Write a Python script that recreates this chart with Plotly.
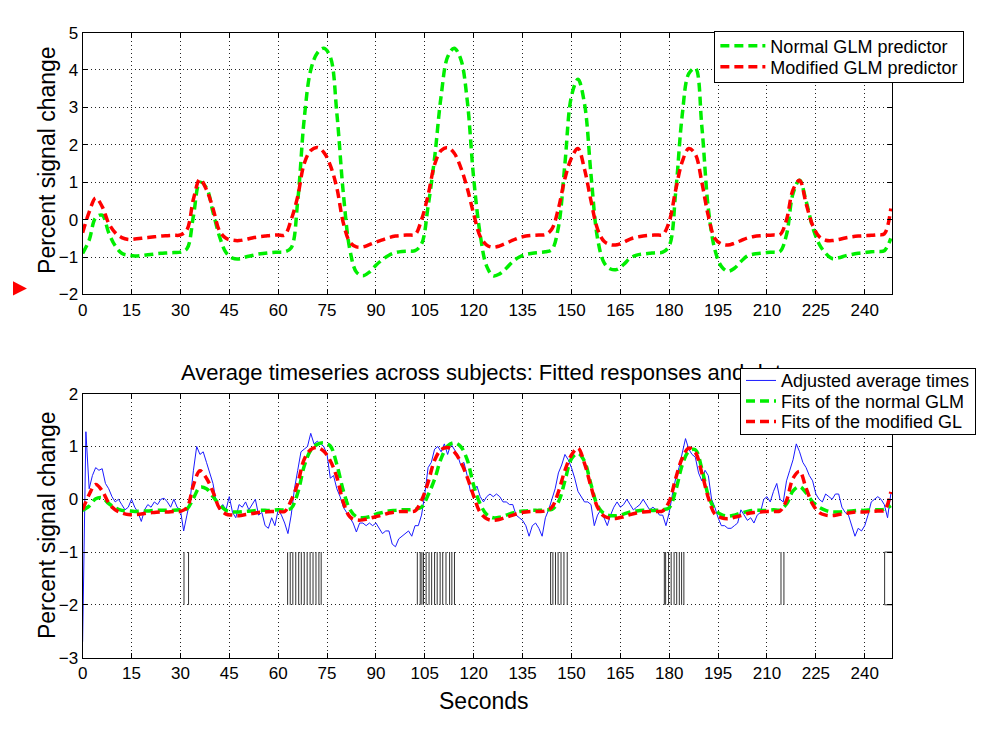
import plotly.graph_objects as go

# ---------------- data ----------------
t_fit = list(range(0, 249, 2))   # seconds (2 s grid for the smooth predictors/fits)

top_normal = [
    -0.9, -0.55, 0.05, 0.12, -0.35, -0.7, -0.9, -0.95, -0.97, -0.96,
    -0.94, -0.92, -0.9, -0.89, -0.88, -0.87, -0.78, 0.1, 1.0, 0.85,
    0.2, -0.45, -0.88, -1.03, -1.05, -1.0, -0.96, -0.92, -0.9, -0.88,
    -0.87, -0.86, -0.75, 0.5, 2.7, 4.0, 4.45, 4.58, 4.35, 2.85,
    0.7, -0.8, -1.4, -1.5, -1.4, -1.22, -1.07, -0.95, -0.88, -0.85,
    -0.84, -0.83, -0.65, 0.35, 1.65, 3.3, 4.35, 4.58, 4.3, 3.2,
    1.1, -0.4, -1.25, -1.5, -1.45, -1.3, -1.12, -1.0, -0.93, -0.9,
    -0.88, -0.86, -0.8, -0.2, 1.5, 3.3, 3.75, 3.1, 1.2, -0.5,
    -1.15, -1.32, -1.33, -1.2, -1.03, -0.95, -0.92, -0.9, -0.88, -0.87,
    -0.7, 0.75, 2.8, 3.9, 4.05, 2.5, 0.3, -0.8, -1.25, -1.38,
    -1.3, -1.12, -0.97, -0.92, -0.9, -0.88, -0.87, -0.85, -0.4, 0.7,
    1.05, 0.5, -0.2, -0.65, -0.9, -1.04, -1.02, -0.97, -0.93, -0.9,
    -0.88, -0.86, -0.85, -0.83, -0.5,
]

top_modified = [
    -0.35, 0.2, 0.58, 0.35, -0.1, -0.35, -0.48, -0.53, -0.52, -0.5,
    -0.48, -0.46, -0.44, -0.43, -0.42, -0.41, -0.27, 0.55, 1.08, 0.8,
    0.3, -0.3, -0.5, -0.55, -0.56, -0.53, -0.49, -0.46, -0.44, -0.42,
    -0.41, -0.41, 0.0, 0.62, 1.5, 1.85, 1.93, 1.8, 1.45, 0.85,
    -0.09, -0.6, -0.73, -0.73, -0.67, -0.6, -0.54, -0.48, -0.44, -0.42,
    -0.41, -0.4, 0.0, 0.65, 1.47, 1.85, 1.93, 1.78, 1.4, 0.85,
    0.15, -0.45, -0.68, -0.74, -0.7, -0.63, -0.55, -0.48, -0.44, -0.42,
    -0.41, -0.4, -0.25, 0.3, 1.1, 1.65, 1.9, 1.35, 0.5, -0.25,
    -0.58, -0.67, -0.67, -0.6, -0.52, -0.47, -0.44, -0.42, -0.41, -0.4,
    -0.05, 0.8, 1.55, 1.9, 1.75, 1.0, 0.1, -0.5, -0.65, -0.68,
    -0.63, -0.56, -0.49, -0.45, -0.43, -0.42, -0.41, -0.4, 0.0, 0.8,
    1.05, 0.43, -0.15, -0.45, -0.55, -0.56, -0.53, -0.49, -0.46, -0.44,
    -0.43, -0.42, -0.4, -0.38, 0.3,
]

fit_normal = [
    -0.21, -0.13, 0.01, 0.03, -0.08, -0.16, -0.21, -0.22, -0.23, -0.22,
    -0.22, -0.21, -0.21, -0.21, -0.21, -0.2, -0.18, 0.02, 0.23, 0.2,
    0.05, -0.1, -0.21, -0.24, -0.24, -0.23, -0.22, -0.21, -0.21, -0.21,
    -0.2, -0.2, -0.17, 0.12, 0.63, 0.93, 1.04, 1.07, 1.01, 0.66,
    0.16, -0.19, -0.33, -0.35, -0.33, -0.28, -0.25, -0.22, -0.21, -0.2,
    -0.2, -0.19, -0.15, 0.08, 0.38, 0.77, 1.01, 1.07, 1.0, 0.75,
    0.26, -0.09, -0.29, -0.35, -0.34, -0.3, -0.26, -0.23, -0.22, -0.21,
    -0.21, -0.2, -0.19, -0.05, 0.35, 0.77, 0.87, 0.72, 0.28, -0.12,
    -0.27, -0.31, -0.31, -0.28, -0.24, -0.22, -0.21, -0.21, -0.21, -0.2,
    -0.16, 0.17, 0.65, 0.91, 0.94, 0.58, 0.07, -0.19, -0.29, -0.32,
    -0.3, -0.26, -0.23, -0.21, -0.21, -0.21, -0.2, -0.2, -0.09, 0.16,
    0.24, 0.12, -0.05, -0.15, -0.21, -0.24, -0.24, -0.23, -0.22, -0.21,
    -0.21, -0.2, -0.2, -0.19, -0.12,
]

fit_modified = [
    -0.2, 0.09, 0.28, 0.16, -0.07, -0.2, -0.26, -0.29, -0.29, -0.28,
    -0.26, -0.25, -0.24, -0.24, -0.23, -0.23, -0.16, 0.27, 0.54, 0.4,
    0.14, -0.17, -0.28, -0.3, -0.31, -0.29, -0.27, -0.25, -0.24, -0.23,
    -0.23, -0.23, -0.02, 0.3, 0.76, 0.94, 0.98, 0.91, 0.73, 0.42,
    -0.06, -0.33, -0.39, -0.39, -0.36, -0.33, -0.3, -0.26, -0.24, -0.23,
    -0.23, -0.22, -0.02, 0.32, 0.74, 0.94, 0.98, 0.9, 0.71, 0.42,
    0.06, -0.25, -0.37, -0.4, -0.38, -0.34, -0.3, -0.26, -0.24, -0.23,
    -0.23, -0.22, -0.15, 0.14, 0.55, 0.84, 0.97, 0.68, 0.24, -0.15,
    -0.32, -0.36, -0.36, -0.33, -0.29, -0.26, -0.24, -0.23, -0.23, -0.22,
    -0.04, 0.4, 0.78, 0.97, 0.89, 0.5, 0.03, -0.28, -0.35, -0.37,
    -0.34, -0.31, -0.27, -0.25, -0.24, -0.23, -0.23, -0.22, -0.02, 0.4,
    0.53, 0.21, -0.09, -0.25, -0.3, -0.31, -0.29, -0.27, -0.25, -0.24,
    -0.24, -0.23, -0.22, -0.21, 0.14,
]

t_data = list(range(0, 249))  # seconds (1 s grid for the averaged timeseries)
avg_timeseries = [
    -2.7, 1.28, 0.2, 0.45, 0.6, 0.55, 0.58, 0.3, 0.2, 0.05,
    -0.05, 0.0, -0.1, -0.2, -0.15, 0.0, -0.15, -0.25, -0.42, -0.2,
    -0.1, -0.15, -0.05, -0.1, 0.0, 0.02, -0.05, -0.15, 0.0, -0.15,
    -0.2, -0.6, -0.3, 0.0, 0.55, 1.0, 0.85, 0.9, 0.7, 0.5,
    0.3, -0.05, -0.2, -0.1, -0.2, 0.05, -0.25, -0.35, -0.1, -0.15,
    -0.05, -0.2, -0.1, 0.0, -0.3, -0.25, -0.5, -0.55, -0.35, -0.5,
    -0.2, -0.3, -0.45, -0.65, -0.3, 0.2, 0.55, 0.9, 0.95, 1.0,
    1.25, 1.05, 1.1, 1.05, 1.0, 0.85, 0.4, 0.45, 0.2, 0.05,
    -0.15, -0.25, -0.35, -0.45, -0.62, -0.45, -0.45, -0.5, -0.45, -0.5,
    -0.45, -0.55, -0.65, -0.6, -0.6, -0.85, -0.9, -0.75, -0.7, -0.65,
    -0.6, -0.7, -0.5, -0.5, -0.3, 0.1, 0.6, 0.7, 0.95, 1.0,
    0.9, 1.05, 0.85, 1.05, 0.95, 0.85, 0.65, 0.7, 0.45, 0.15,
    0.15, 0.25, 0.05, -0.05, 0.05, 0.1, 0.05, 0.1, 0.05, -0.05,
    -0.05, -0.1, -0.1, -0.3, -0.35, -0.4, -0.5, -0.7, -0.5, -0.45,
    -0.55, -0.7, -0.35, -0.2, 0.0, 0.2, 0.5, 0.65, 0.85, 0.75,
    0.6, 0.4, 0.15, 0.05, -0.05, -0.05, -0.1, -0.5, -0.3, -0.2,
    -0.35, -0.5, -0.3, -0.15, -0.05, -0.15, -0.1, 0.0, -0.1, -0.2,
    -0.15, -0.1, 0.0, -0.1, -0.2, -0.15, -0.2, -0.3, -0.3, -0.5,
    -0.25, 0.1, 0.4, 0.6, 0.85, 1.15, 0.95, 0.85, 0.8, 0.5,
    0.35, 0.55, 0.45, 0.0, -0.15, -0.35, -0.5, -0.5, -0.55, -0.55,
    -0.5, -0.45, -0.2, -0.3, -0.4, -0.35, -0.45, -0.3, -0.25, 0.0,
    0.05, -0.05, 0.15, 0.3, 0.0, -0.05, 0.35, 0.55, 0.75, 1.05,
    0.9, 0.7, 0.6, 0.45, 0.35, 0.1, 0.0, -0.05, 0.1, 0.05,
    0.0, 0.1, 0.1, -0.15, -0.25, -0.3, -0.5, -0.7, -0.55, -0.6,
    -0.5, -0.3, -0.05, 0.0, 0.05, 0.0, -0.1, -0.35, 0.1,
]

stim_onsets = [
    31.1, 32.5,
    62.9, 63.7, 64.5, 65.4, 66.3, 67.1, 68.0, 68.9, 69.8, 70.7, 71.6, 72.5, 73.2,
    102.7, 103.6, 104.1, 104.6, 105.4, 106.3, 107.1, 108.0, 108.8, 109.7, 110.5,
    111.5, 112.6, 113.3, 114.1,
    143.6, 144.3, 145.1, 145.9, 146.8, 147.7, 148.7,
    178.5, 178.9, 179.8, 180.6, 181.5, 182.3, 183.1, 183.8, 184.5,
    214.3, 215.2,
]
stim_last_block = [246.1, 248.5]
stim_levels = [-2, -1]

x_ticks = list(range(0, 241, 15))
x_range = [0, 248.5]

# legend labels; the lower legend shows the text as far as it is visible in the original
name_top_normal = "Normal GLM predictor"
name_top_modified = "Modified GLM predictor"
name_data = "Adjusted average times"
name_fit_normal = "Fits of the normal GLM"
name_fit_modified = "Fits of the modified GL"

# ---------------- figure ----------------
# The page photograph keeps an 8 px white frame around the figure, so the figure
# itself is 970 x 718 and target positions (page pixels) are offset by 8 px.
W, H = 970, 718
OX, OY = 8, 8
FONT = "Liberation Sans, Arial, sans-serif"
GREEN = "#00ee00"
RED = "#ff0000"
BLUE = "#1a1aff"
DASH = "9px,5px"

def px_x(p):
    return (p - OX) / W

def px_y(p):
    return 1 - (p - OY) / H

fig = go.Figure()

# top panel
fig.add_trace(go.Scatter(x=t_fit, y=top_normal, mode="lines", name=name_top_normal,
                         line=dict(color=GREEN, width=3.5, dash=DASH, shape="spline", smoothing=1.0),
                         xaxis="x", yaxis="y", legend="legend"))
fig.add_trace(go.Scatter(x=t_fit, y=top_modified, mode="lines", name=name_top_modified,
                         line=dict(color=RED, width=3.5, dash=DASH, shape="spline", smoothing=1.0),
                         xaxis="x", yaxis="y", legend="legend"))

# bottom panel: stimulus markers
sx, sy = [], []
for t in stim_onsets:
    sx += [t, t, None]
    sy += [stim_levels[0], stim_levels[1], None]
a, b = stim_last_block
sx += [a, a, b, b, a]
sy += [stim_levels[0], stim_levels[1], stim_levels[1], stim_levels[0], stim_levels[0]]
fig.add_trace(go.Scatter(x=sx, y=sy, mode="lines", line=dict(color="#333333", width=1),
                         showlegend=False, xaxis="x2", yaxis="y2", hoverinfo="skip"))

fig.add_trace(go.Scatter(x=t_data, y=avg_timeseries, mode="lines", name=name_data,
                         line=dict(color=BLUE, width=1),
                         xaxis="x2", yaxis="y2", legend="legend2"))
fig.add_trace(go.Scatter(x=t_fit, y=fit_normal, mode="lines", name=name_fit_normal,
                         line=dict(color=GREEN, width=3.5, dash=DASH, shape="spline", smoothing=1.0),
                         xaxis="x2", yaxis="y2", legend="legend2"))
fig.add_trace(go.Scatter(x=t_fit, y=fit_modified, mode="lines", name=name_fit_modified,
                         line=dict(color=RED, width=3.5, dash=DASH, shape="spline", smoothing=1.0),
                         xaxis="x2", yaxis="y2", legend="legend2"))

x_dom = [px_x(78), px_x(892)]
axis_common = dict(showline=True, linecolor="black", linewidth=1, mirror="ticks",
                   ticks="inside", ticklen=5, tickcolor="black",
                   showgrid=True, gridcolor="#222222", griddash="1px,3px", gridwidth=1,
                   zeroline=False, tickfont=dict(family=FONT, size=17, color="black"))

legend_common = dict(yanchor="top", bgcolor="white", bordercolor="black", borderwidth=1,
                     font=dict(family=FONT, size=18, color="black"))

fig.update_layout(
    margin=dict(l=0, r=0, t=0, b=0, pad=0),
    paper_bgcolor="white", plot_bgcolor="white",
    font=dict(family=FONT, color="black"),
    xaxis=dict(domain=x_dom, range=x_range, tickvals=x_ticks, anchor="y", **axis_common),
    yaxis=dict(domain=[px_y(293), px_y(24)], range=[-2, 5], dtick=1, anchor="x", **axis_common),
    xaxis2=dict(domain=x_dom, range=x_range, tickvals=x_ticks, anchor="y2", **axis_common),
    yaxis2=dict(domain=[px_y(666), px_y(395)], range=[-3, 2], dtick=1, anchor="x2", **axis_common),
    legend=dict(x=px_x(713), y=px_y(22), xanchor="left", itemwidth=45, **legend_common),
    legend2=dict(x=px_x(976), y=px_y(369), xanchor="right", itemwidth=30, **legend_common),
    hovermode=False,
    shapes=[
        # visible part of the red slide marker on the left edge
        dict(type="path", xref="paper", yref="paper",
             path=(f"M {px_x(8)},{px_y(279.4)} L {px_x(22)},{px_y(287)} "
                   f"L {px_x(8)},{px_y(294)} Z"),
             fillcolor="#ff0000", line=dict(width=0), layer="above"),
    ],
    annotations=[
        dict(text="Average timeseries across subjects: Fitted responses and data",
             x=px_x(485), y=px_y(373), xref="paper", yref="paper",
             xanchor="center", yanchor="middle", showarrow=False,
             font=dict(family=FONT, size=22, color="black")),
        dict(text="Percent signal change", x=px_x(42), y=px_y(155), xref="paper", yref="paper",
             textangle=-90, xanchor="center", yanchor="middle", showarrow=False,
             font=dict(family=FONT, size=23, color="black")),
        dict(text="Percent signal change", x=px_x(42), y=px_y(530), xref="paper", yref="paper",
             textangle=-90, xanchor="center", yanchor="middle", showarrow=False,
             font=dict(family=FONT, size=23, color="black")),
        dict(text="Seconds", x=px_x(481), y=px_y(711), xref="paper", yref="paper",
             xanchor="center", yanchor="middle", showarrow=False,
             font=dict(family=FONT, size=23, color="black")),
    ],
)

# Legends: drawn above the panel title, with the tighter MATLAB-like row spacing.
post_js = """
var gd=document.getElementById('{plot_id}');
var specs={'legend':[15,21,15],'legend2':[12,20.5,13]};
Object.keys(specs).forEach(function(cls){
  var lg=gd.querySelector('g.'+cls); if(!lg){return;}
  lg.parentNode.appendChild(lg);
  var s=specs[cls], tr=lg.querySelectorAll('g.traces');
  tr.forEach(function(t,i){
    var m=/translate\\(\\s*([-\\d.e]+)[ ,]+([-\\d.e]+)\\s*\\)/.exec(t.getAttribute('transform')||'');
    var x=m?m[1]:0;
    t.setAttribute('transform','translate('+x+','+(s[0]+i*s[1])+')');
  });
  var bg=lg.querySelector('rect.bg');
  if(bg){bg.setAttribute('height', s[0]+(tr.length-1)*s[1]+s[2]);}
});
"""

fig.write_html("out.html", config={"displayModeBar": False, "responsive": False},
               default_width="970px", default_height="718px", post_script=post_js)
